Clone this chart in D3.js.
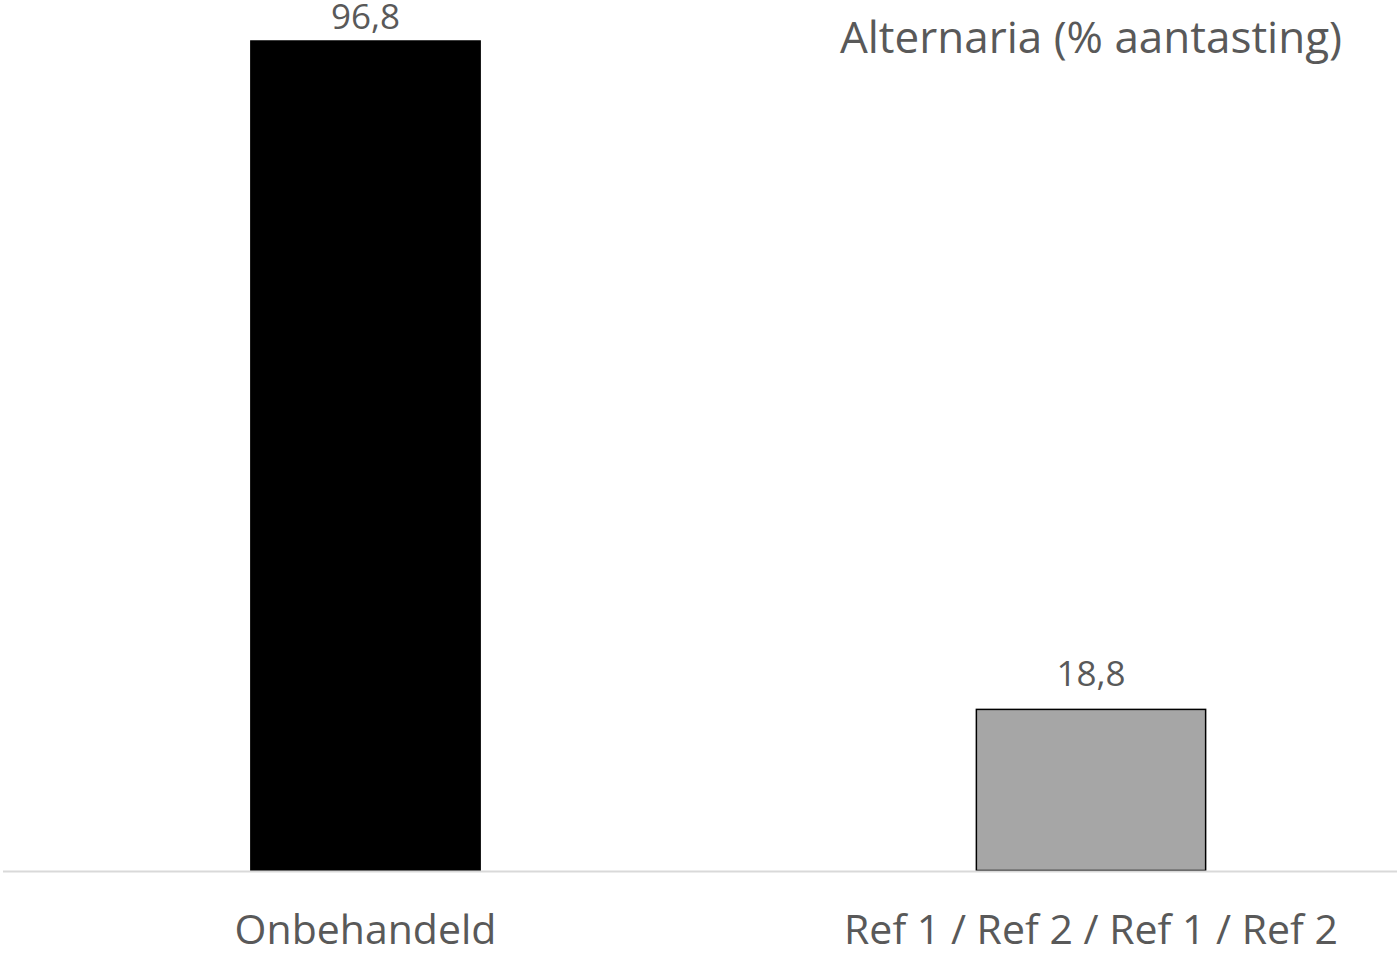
<html>
<head>
<meta charset="utf-8">
<title>Alternaria</title>
<script type="text/javascript" src="https://cdn.jsdelivr.net/npm/d3@7/dist/d3.min.js"></script>
<style type="text/css">
body { margin: 0; background: white; }
text { font-family: "Open Sans", "Liberation Sans", sans-serif; fill: #595959; }
</style>
</head>
<body>
<script>
var categories = ["Onbehandeld", "Ref 1 / Ref 2 / Ref 1 / Ref 2"];
var values = [96.8, 18.8];
var valueLabels = ["96,8", "18,8"];
var barColors = ["#000000", "#a6a6a6"];
var title = "Alternaria (% aantasting)";

var width = 1397, height = 955;

var svg = d3.select("body").append("svg")
  .attr("width", width).attr("height", height)
  .style("background", "white");

var x = d3.scaleBand()
  .domain(categories)
  .range([2.75, 1453.75])
  .paddingInner(0.684)
  .paddingOuter(0.342);

var y = d3.scaleLinear()
  .domain([0, 96.8])
  .range([870.5, 41]);

// bars
svg.selectAll("rect.bar")
  .data(values)
  .enter().append("rect")
  .attr("class", "bar")
  .attr("x", function(d, i){ return x(categories[i]); })
  .attr("y", function(d){ return y(d); })
  .attr("width", x.bandwidth())
  .attr("height", function(d){ return y(0) - y(d); })
  .attr("fill", function(d, i){ return barColors[i]; })
  .attr("stroke", "#000")
  .attr("stroke-width", 1.5);

// baseline
svg.append("line")
  .attr("x1", 3).attr("x2", width)
  .attr("y1", y(0) + 1).attr("y2", y(0) + 1)
  .attr("stroke", "#d9d9d9")
  .attr("stroke-width", 2);

// value labels (kept inside the top edge)
svg.selectAll("text.val")
  .data(values)
  .enter().append("text")
  .attr("class", "val")
  .attr("x", function(d, i){ return x(categories[i]) + x.bandwidth() / 2; })
  .attr("y", function(d){ return Math.max(y(d) - 23, 29); })
  .attr("text-anchor", "middle")
  .style("font-size", "35px")
  .text(function(d, i){ return valueLabels[i]; });

// category labels
svg.selectAll("text.cat")
  .data(categories)
  .enter().append("text")
  .attr("class", "cat")
  .attr("x", function(d){ return x(d) + x.bandwidth() / 2; })
  .attr("y", 944)
  .attr("text-anchor", "middle")
  .style("font-size", "41px")
  .text(function(d){ return d; });

// title
svg.append("text")
  .attr("x", 1091)
  .attr("y", 53)
  .attr("text-anchor", "middle")
  .style("font-size", "44px")
  .text(title);
</script>
</body>
</html>
